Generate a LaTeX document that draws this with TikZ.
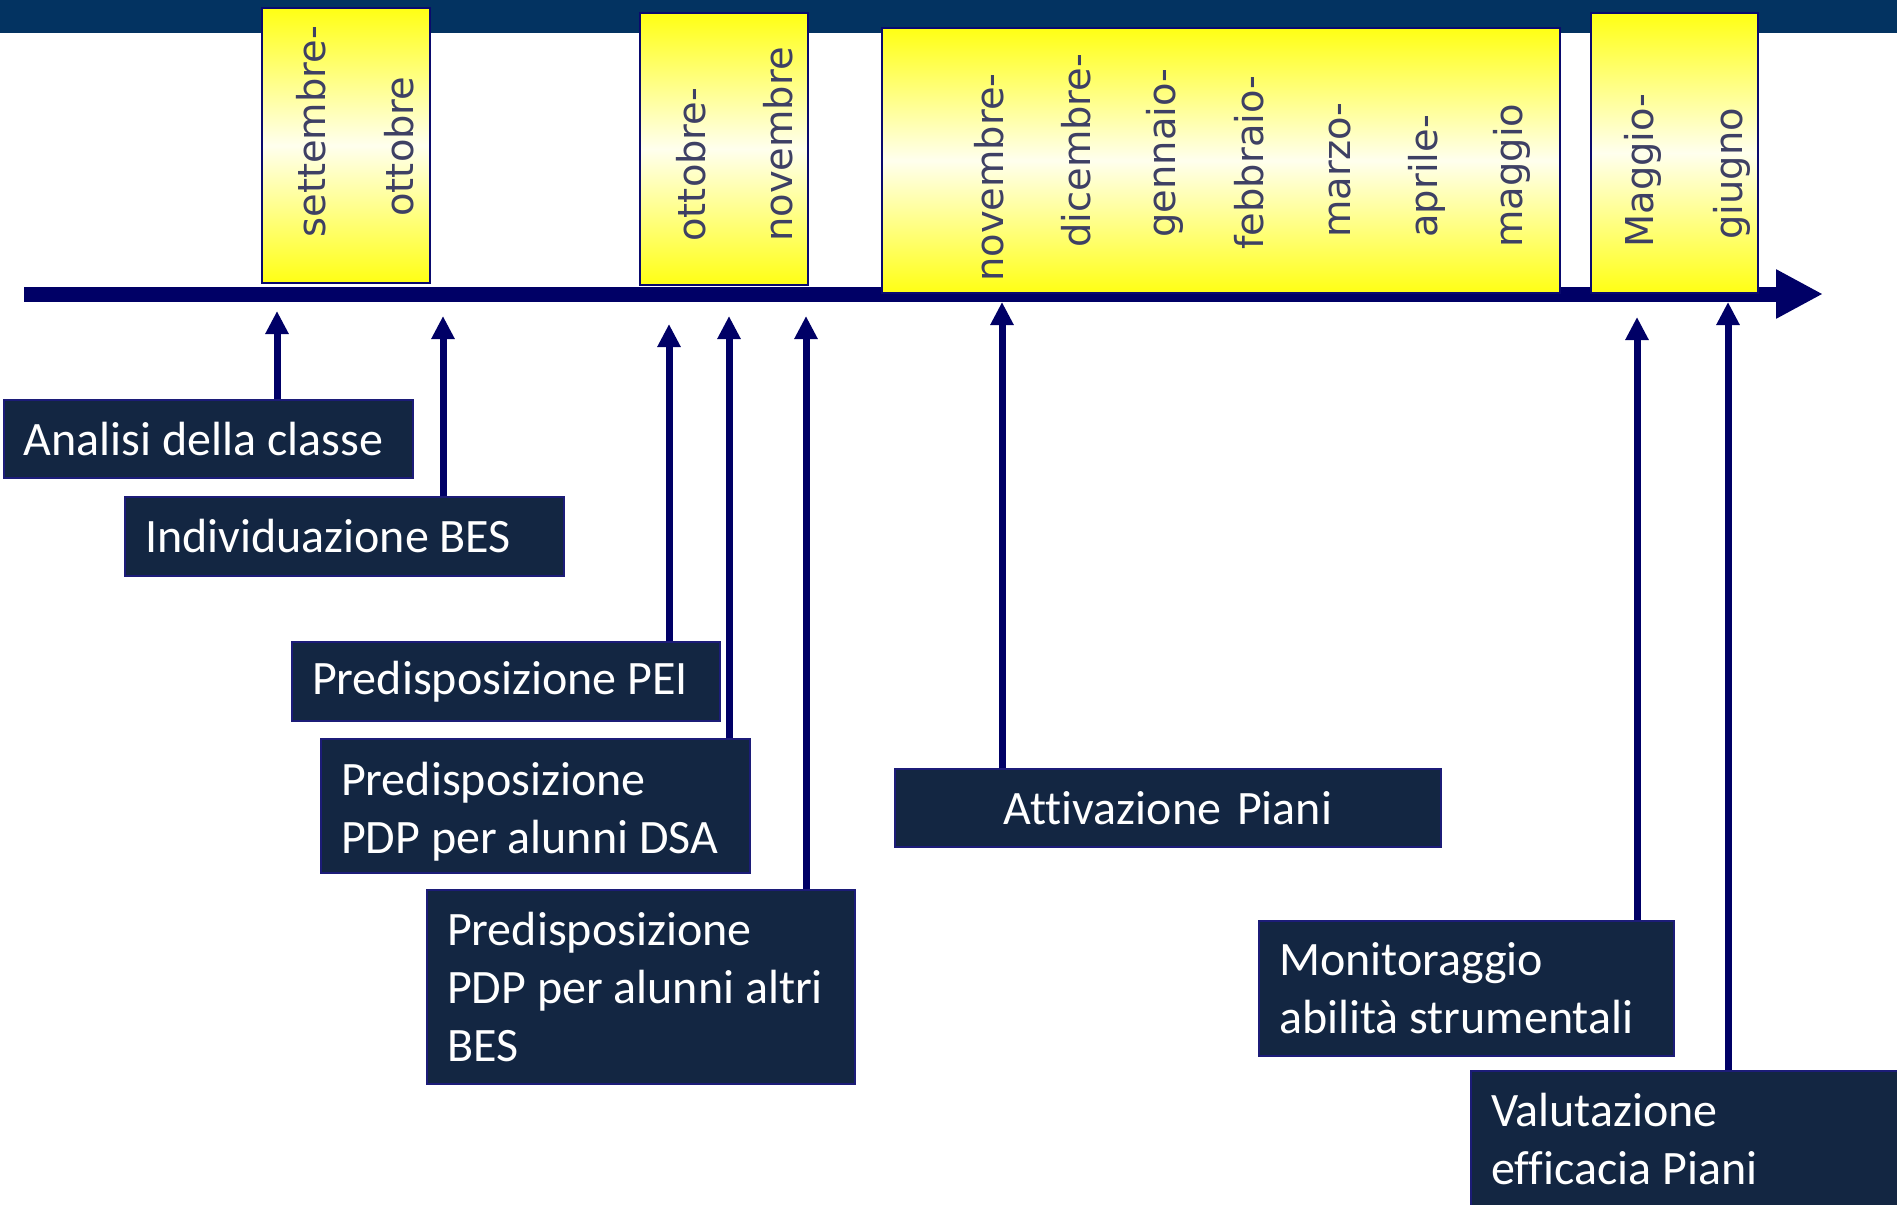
\documentclass[tikz,border=0pt]{standalone}
\usepackage{fontspec}
\setmainfont{Carlito}[Ligatures=NoCommon]
\newfontfamily\monthfont{DejaVu Sans}
\usetikzlibrary{arrows.meta}

\definecolor{bandblue}{RGB}{3,51,97}
\definecolor{axisnavy}{RGB}{0,0,102}
\definecolor{boxfill}{RGB}{19,38,66}
\definecolor{boxedge}{RGB}{28,28,120}
\definecolor{monthtext}{RGB}{62,64,100}
\definecolor{periodyellow}{RGB}{255,255,20}
\definecolor{periodlight}{RGB}{255,255,238}
\definecolor{periodedge}{RGB}{10,10,110}

\begin{document}
\begin{tikzpicture}[x=0.5pt,y=-0.5pt,
  periodbox/.style={draw=periodedge, line width=1.2pt, top color=periodyellow,
    bottom color=periodyellow, middle color=periodlight, inner sep=0pt},
  monthlabel/.style={rotate=90, anchor=base west, inner sep=0pt, text=monthtext,
    font=\monthfont\fontsize{19.2}{23}\selectfont},
  eventbox/.style={draw=boxedge, line width=1pt, fill=boxfill, text=white,
    font=\fontsize{24}{29}\selectfont, inner xsep=10pt, inner ysep=0pt, align=flush left},
  conn/.style={draw=axisnavy, line width=3.5pt, -{Triangle[length=11.5pt,width=11pt]}},
  timeaxis/.style={draw=axisnavy, line width=7.5pt, -{Triangle[length=23.5pt,width=23pt]}}
]
\useasboundingbox (0,0) rectangle (1897,1205);
\clip (0,0) rectangle (1897,1205);
\fill[white] (0,0) rectangle (1897,1205);

% header band
\fill[bandblue] (0,0) rectangle (1897,33);

% time axis
\coordinate (axstart) at (24,294);
\coordinate (axend) at (1823,294);
\draw[timeaxis] (axstart) -- (axend);

% periods
\node[periodbox, minimum width=84pt, minimum height=137.5pt] (per1) at (346,145.5) {};
\node[periodbox, minimum width=84pt, minimum height=136pt] (per2) at (724,149) {};
\node[periodbox, minimum width=339pt, minimum height=132.5pt] (per3) at (1221,160.5) {};
\node[periodbox, minimum width=83.5pt, minimum height=140pt] (per4) at (1674.5,153) {};

% month names
\node[monthlabel] (m1a) at (325,238) {settembre-};
\node[monthlabel] (m1b) at (413,217) {ottobre};
\node[monthlabel] (m2a) at (705,242) {ottobre-};
\node[monthlabel] (m2b) at (792,242) {novembre};
\node[monthlabel] (m3a) at (1003,282) {novembre-};
\node[monthlabel] (m3b) at (1090,248) {dicembre-};
\node[monthlabel] (m3c) at (1175,238) {gennaio-};
\node[monthlabel] (m3d) at (1263,250) {febbraio-};
\node[monthlabel] (m3e) at (1350,238) {marzo-};
\node[monthlabel] (m3f) at (1437,238) {aprile-};
\node[monthlabel] (m3g) at (1522,248) {maggio};
\node[monthlabel] (m4a) at (1653,248) {Maggio-};
\node[monthlabel] (m4b) at (1742,240) {giugno};

% arrow tips under the axis
\coordinate (ta) at (277,311);
\coordinate (tb) at (443,316);
\coordinate (tc) at (669,324);
\coordinate (td) at (729,316);
\coordinate (te) at (806,316);
\coordinate (tf) at (1002,302);
\coordinate (tg) at (1637,317);
\coordinate (th) at (1728,302);

% activities
\node[eventbox, text width=184.5pt, minimum height=39pt] (ana) at (208.5,439)
  {\mbox{Analisi della classe}};
\node[eventbox, text width=199.5pt, minimum height=39.5pt] (ind) at (344.5,536.5)
  {\mbox{Individuazione BES}};
\node[eventbox, text width=194pt, minimum height=39.5pt] (pei) at (506,681.5)
  {\mbox{Predisposizione PEI}};
\node[eventbox, text width=194.5pt, minimum height=67pt] (dsa) at (535.5,806)
  {\mbox{\rule{0pt}{22pt}Predisposizione}\\\mbox{PDP per alunni DSA}};
\node[eventbox, text width=194pt, minimum height=97pt] (bes) at (641,987)
  {\mbox{Predisposizione}\\\mbox{PDP per alunni altri}\\\mbox{BES}};
\node[eventbox, text width=253pt, minimum height=39pt, align=center] (att) at (1168,808)
  {\mbox{Attivazione Piani}};
\node[eventbox, text width=187.5pt, minimum height=67.5pt] (mon) at (1466.5,988.5)
  {\mbox{Monitoraggio}\\\mbox{abilità strumentali}};
\node[eventbox, text width=200pt, minimum height=67.5pt] (val) at (1691,1138.5)
  {\mbox{Valutazione}\\\mbox{efficacia Piani}};

% connectors
\draw[conn] (ta |- ana.north) -- (ta);
\draw[conn] (tb |- ind.north) -- (tb);
\draw[conn] (tc |- pei.north) -- (tc);
\draw[conn] (td |- dsa.north) -- (td);
\draw[conn] (te |- bes.north) -- (te);
\draw[conn] (tf |- att.north) -- (tf);
\draw[conn] (tg |- mon.north) -- (tg);
\draw[conn] (th |- val.north) -- (th);
\end{tikzpicture}
\end{document}
